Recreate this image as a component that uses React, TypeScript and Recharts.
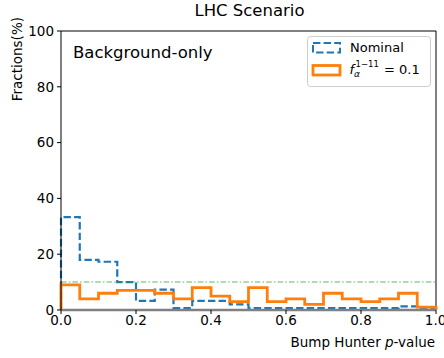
import { ComposedChart, Line, XAxis, YAxis, ReferenceLine, Customized } from "recharts";

// histogram bins (left edges), width 0.05
const binStarts = [0, 0.05, 0.1, 0.15, 0.2, 0.25, 0.3, 0.35, 0.4, 0.45, 0.5, 0.55, 0.6, 0.65, 0.7, 0.75, 0.8, 0.85, 0.9, 0.95];
const binEnd = 1;

// fractions (%) per bin
const nominal = [33.3, 18, 17.3, 10, 3.3, 7.3, 0.7, 3.3, 3.3, 2, 0.7, 0.7, 0.7, 0.7, 0.7, 0.7, 0.7, 0.7, 1.3, 0.7];
const fAlpha = [9, 4, 6, 7, 7, 6, 4, 8, 5, 3, 8, 3, 4, 2, 6, 4, 3, 4, 6, 1];

const uniformLevel = 10;

const xTicks = [0, 0.2, 0.4, 0.6, 0.8, 1.0];
const yTicks = [0, 20, 40, 60, 80, 100];

const BLUE = "#1f77b4";
const ORANGE = "#ff7f0e";
const GREEN = "#2ca02c";
const FONT = "DejaVu Sans, sans-serif";

// step outline: drop to baseline at both ends
const last = binStarts.length - 1;
const rows = [
  { x: binStarts[0], nominal: 0, fAlpha: 0 },
  ...binStarts.map((x, i) => ({ x, nominal: nominal[i], fAlpha: fAlpha[i] })),
  { x: binEnd, nominal: nominal[last], fAlpha: fAlpha[last] },
  { x: binEnd, nominal: 0, fAlpha: 0 },
];

function Annotations() {
  return (
    <g fontFamily={FONT} fill="#000">
      <text x={249.5} y={16} fontSize={16.5} textAnchor="middle">LHC Scenario</text>
      <text x={22} y={17} fontSize={13.5} textAnchor="end" transform="rotate(-90, 22, 17)">Fractions(%)</text>
      <text x={73} y={58} fontSize={16.5}>Background-only</text>
      <text x={435} y={347} fontSize={13.5} textAnchor="end">
        Bump Hunter <tspan fontStyle="italic">p</tspan>-value
      </text>

      {/* legend */}
      <rect x={307.5} y={36.5} width={123} height={50} rx={3} fill="#fff" fillOpacity={0.8} stroke="#ccc" />
      <rect x={313} y={43} width={27} height={9.5} fill="none" stroke={BLUE} strokeWidth={2} strokeDasharray="7.4 3.2" />
      <text x={350} y={51.5} fontSize={13}>Nominal</text>
      <rect x={313} y={65.5} width={27} height={9.5} fill="#fff" stroke={ORANGE} strokeWidth={2.8} />
      <text y={74} fontSize={13}>
        <tspan x={349.5} fontStyle="italic">f</tspan>
        <tspan x={354} y={77} fontSize={9} fontStyle="italic">α</tspan>
        <tspan x={355.5} y={67} fontSize={8.5}>1−11</tspan>
        <tspan x={384} y={74}>= 0.1</tspan>
      </text>
    </g>
  );
}

export default function App() {
  return (
    <div style={{ position: "fixed", left: 0, top: 0, background: "#fff" }}>
      <ComposedChart width={444} height={358} data={rows} margin={{ top: 31, right: 8, bottom: 0, left: 0 }}>
        <XAxis
          dataKey="x"
          type="number"
          domain={[0, 1]}
          ticks={xTicks}
          tickFormatter={(v: number) => v.toFixed(1)}
          allowDuplicatedCategory
          height={48}
          tickSize={4}
          tickMargin={1}
          axisLine={{ stroke: "#808080", strokeWidth: 2.5 }}
          tickLine={{ stroke: "#000" }}
          tick={{ fill: "#000", fontSize: 13.5, fontFamily: FONT }}
        />
        <YAxis
          type="number"
          domain={[0, 100]}
          ticks={yTicks}
          width={61}
          tickSize={4}
          tickMargin={3}
          axisLine={{ stroke: "#000" }}
          tickLine={{ stroke: "#000" }}
          tick={{ fill: "#000", fontSize: 13.5, fontFamily: FONT }}
        />
        <ReferenceLine y={100} stroke="#000" strokeWidth={1} />
        <ReferenceLine x={1} stroke="#000" strokeWidth={1} />
        <Line
          dataKey="nominal"
          type="stepAfter"
          stroke={BLUE}
          strokeWidth={2.2}
          strokeDasharray="7.4 3.2"
          dot={false}
          activeDot={false}
          isAnimationActive={false}
        />
        <Line
          dataKey="fAlpha"
          type="stepAfter"
          stroke={ORANGE}
          strokeWidth={2.8}
          dot={false}
          activeDot={false}
          isAnimationActive={false}
        />
        <ReferenceLine
          y={uniformLevel}
          stroke={GREEN}
          strokeOpacity={0.5}
          strokeWidth={1.5}
          strokeDasharray="5.5 2.2 1.5 2.2"
        />
        <Customized component={Annotations} />
      </ComposedChart>
    </div>
  );
}
